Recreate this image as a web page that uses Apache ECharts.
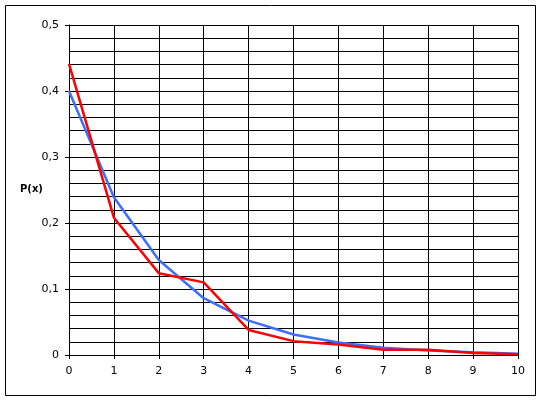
<!DOCTYPE html>
<html>
<head>
<meta charset="utf-8">
<script src="https://cdn.jsdelivr.net/npm/echarts@6/dist/echarts.min.js"></script>
<style>html,body{margin:0;padding:0;background:#fff;}#c{width:542px;height:400px;}</style>
</head>
<body>
<div id="c"></div>
<script>
var xValues = [0, 1, 2, 3, 4, 5, 6, 7, 8, 9, 10];
var blueValues = [0.40, 0.239, 0.144, 0.086, 0.052, 0.031, 0.019, 0.011, 0.007, 0.004, 0.002];
var redValues = [0.441, 0.208, 0.124, 0.110, 0.038, 0.021, 0.016, 0.008, 0.008, 0.003, 0.001];
var yLabelText = 'P(x)';

var chart = echarts.init(document.getElementById('c'), null, {renderer: 'canvas'});
function pairs(vals) { return xValues.map(function (x, i) { return [x, vals[i]]; }); }
var font = 'DejaVu Sans';
chart.setOption({
  animation: false,
  backgroundColor: '#fff',
  grid: {left: 69, right: 24, top: 25, bottom: 45, containLabel: false},
  xAxis: {
    type: 'value', min: 0, max: 10, interval: 1,
    axisLine: {show: true, lineStyle: {color: '#000', width: 1}},
    axisTick: {show: true, length: 4, lineStyle: {color: '#000'}},
    axisLabel: {color: '#000', fontFamily: font, fontSize: 11, margin: 11},
    splitLine: {show: true, lineStyle: {color: '#000', width: 1}}
  },
  yAxis: {
    type: 'value', min: 0, max: 0.5, interval: 0.1,
    axisLine: {show: true, lineStyle: {color: '#000', width: 1}},
    axisTick: {show: true, length: 4, lineStyle: {color: '#000'}},
    minorTick: {show: false, splitNumber: 5},
    minorSplitLine: {show: true, lineStyle: {color: '#000', width: 1}},
    axisLabel: {color: '#000', fontFamily: font, fontSize: 11, margin: 10,
      formatter: function (v) { return (Math.round(v * 10) / 10).toString().replace('.', ','); }},
    splitLine: {show: true, lineStyle: {color: '#000', width: 1}}
  },
  graphic: [
    {type: 'rect', shape: {x: 5.5, y: 5.5, width: 530, height: 390}, style: {fill: 'none', stroke: '#000', lineWidth: 1}, z: 100},
    {type: 'text', left: 20, top: 184, style: {text: yLabelText, font: 'bold 10px "DejaVu Sans"', fill: '#000'}}
  ],
  series: [
    {type: 'line', data: pairs(blueValues), symbol: 'none', lineStyle: {color: '#3c6eff', width: 2.5}, itemStyle: {color: '#3c6eff'}, z: 3},
    {type: 'line', data: pairs(redValues), symbol: 'none', lineStyle: {color: '#ff0000', width: 2.5}, itemStyle: {color: '#ff0000'}, z: 4}
  ]
});
</script>
</body>
</html>
